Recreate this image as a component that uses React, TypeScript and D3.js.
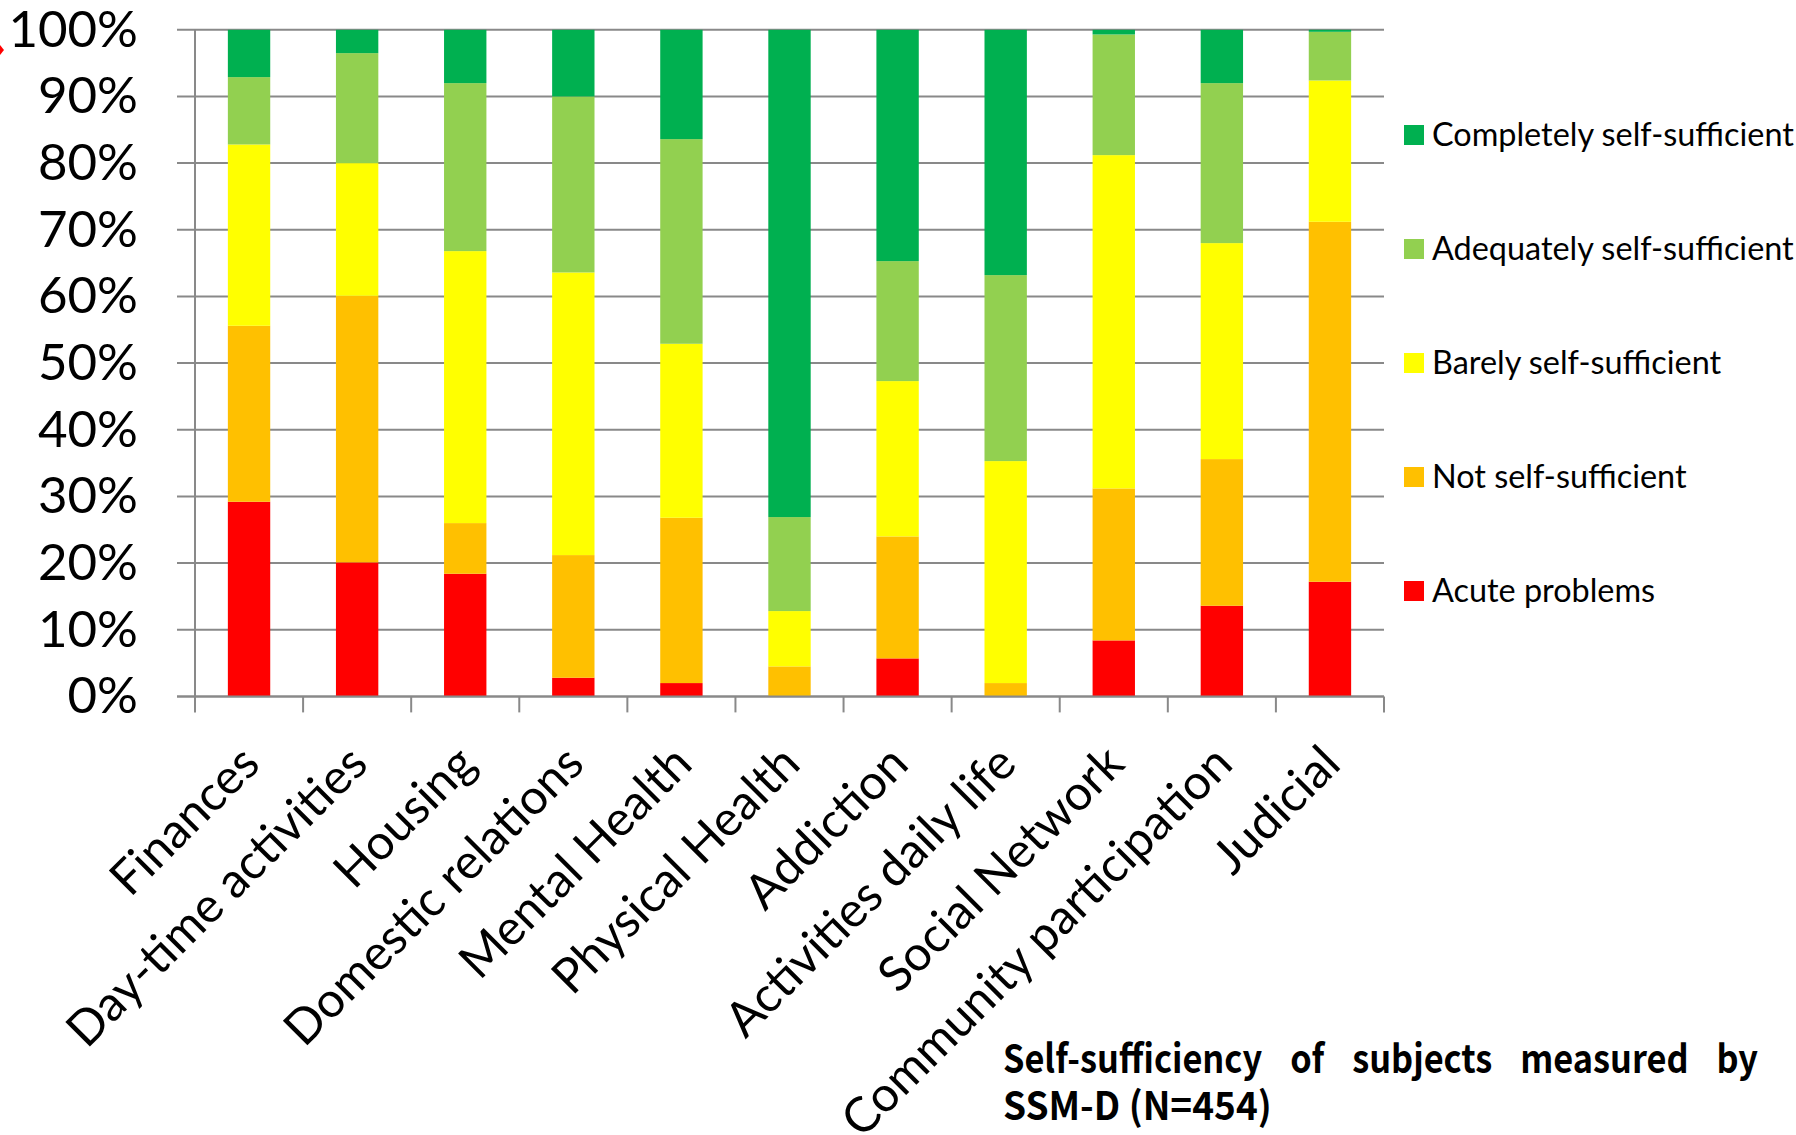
import React, { useEffect, useRef } from "react";
import * as d3 from "d3";

const categories = [
  "Finances",
  "Day-time activities",
  "Housing",
  "Domestic relations",
  "Mental Health",
  "Physical Health",
  "Addiction",
  "Activities daily life",
  "Social Network",
  "Community participation",
  "Judicial",
];
const seriesNames = [
  "Acute problems",
  "Not self-sufficient",
  "Barely self-sufficient",
  "Adequately self-sufficient",
  "Completely self-sufficient",
];
const seriesColors = ["#FF0000", "#FFC000", "#FFFF00", "#92D050", "#00B050"];
const acuteProblems = [29.2, 20.1, 18.4, 2.8, 2.0, 0, 5.7, 0, 8.4, 13.6, 17.2];
const notSelfSufficient = [26.4, 40.0, 7.6, 18.4, 24.8, 4.5, 18.3, 2.0, 22.8, 22.0, 54.0];
const barelySelfSufficient = [27.2, 19.9, 40.8, 42.4, 26.1, 8.3, 23.3, 33.3, 50.0, 32.4, 21.2];
const adequatelySelfSufficient = [10.1, 16.5, 25.2, 26.4, 30.7, 14.1, 18.0, 27.9, 18.1, 24.0, 7.3];
const completelySelfSufficient = [7.1, 3.5, 8.0, 10.0, 16.4, 73.1, 34.7, 36.8, 0.7, 8.0, 0.3];
const yTicks = [0, 10, 20, 30, 40, 50, 60, 70, 80, 90, 100];
const titleLine1 = ["Self-sufficiency", "of", "subjects", "measured", "by"];
const titleLine2 = "SSM-D (N=454)";

const W = 1796;
const H = 1135;
const PLOT_L = 195;
const PLOT_R = 1384;
const PLOT_T = 29.8;
const PLOT_B = 696.4;
const GRID = "#898989";
const FONT = "Lato, 'Open Sans', sans-serif";
const TITLE_FONT = "'Noto Sans CJK KR', 'Noto Sans', sans-serif";
const TITLE_SX = 0.88;
const TITLE2_SX = 0.95;

export default function App() {
  const titleRef = useRef<SVGGElement | null>(null);

  const seriesValues = [
    acuteProblems,
    notSelfSufficient,
    barelySelfSufficient,
    adequatelySelfSufficient,
    completelySelfSufficient,
  ];
  const rows = categories.map((c, i) => {
    const r: Record<string, any> = { category: c };
    seriesNames.forEach((s, k) => (r[s] = seriesValues[k][i]));
    return r;
  });
  const stacked = d3.stack<Record<string, any>>().keys(seriesNames)(rows);

  const x = d3
    .scaleBand<string>()
    .domain(categories)
    .range([PLOT_L, PLOT_R])
    .paddingInner(0.608)
    .paddingOuter(0.304);
  const y = d3.scaleLinear().domain([0, 100]).range([PLOT_B, PLOT_T]);
  const step = x.step();
  const boundaries = d3.range(categories.length + 1).map((i) => PLOT_L + i * step);

  useEffect(() => {
    if (!titleRef.current) return;
    const g = d3.select(titleRef.current);
    const words = g.selectAll<SVGTextElement, unknown>("text.w1").nodes();
    const widths = words.map((n) => n.getComputedTextLength() * TITLE_SX);
    const start = 1003;
    const end = 1758;
    const total = d3.sum(widths);
    const gap = (end - start - total) / (words.length - 1);
    let cx = start;
    words.forEach((n, i) => {
      d3.select(n).attr("transform", `translate(${cx},1073) scale(${TITLE_SX},1)`);
      cx += widths[i] + gap;
    });
  }, []);

  const legendOrder = [4, 3, 2, 1, 0];
  const legendY = (i: number) => 135 + i * 114;

  return (
    <svg
      width={W}
      height={H}
      viewBox={`0 0 ${W} ${H}`}
      style={{ position: "absolute", left: 0, top: 0, background: "#fff" }}
    >
      <rect x={0} y={0} width={W} height={H} fill="#fff" />
      {/* gridlines */}
      {yTicks.map((t) => (
        <line
          key={"g" + t}
          x1={PLOT_L - 18}
          x2={PLOT_R}
          y1={y(t)}
          y2={y(t)}
          stroke={GRID}
          strokeWidth={2}
        />
      ))}
      {/* y axis line */}
      <line x1={PLOT_L} x2={PLOT_L} y1={PLOT_T} y2={PLOT_B} stroke={GRID} strokeWidth={2} />
      {/* bars */}
      {stacked.map((layer, k) => (
        <g key={layer.key} fill={seriesColors[k]}>
          {layer.map((d, i) => {
            const h = y(d[0]) - y(d[1]);
            if (h <= 0) return null;
            return (
              <rect
                key={i}
                x={x(categories[i])}
                y={y(d[1])}
                width={x.bandwidth()}
                height={h}
              />
            );
          })}
        </g>
      ))}
      {/* x axis */}
      <line x1={PLOT_L - 18} x2={PLOT_R} y1={PLOT_B} y2={PLOT_B} stroke={GRID} strokeWidth={2} />
      {boundaries.map((bx, i) => (
        <line key={"t" + i} x1={bx} x2={bx} y1={PLOT_B} y2={PLOT_B + 16} stroke={GRID} strokeWidth={2} />
      ))}
      {/* y labels */}
      {yTicks.map((t) => (
        <text
          key={"yl" + t}
          x={138}
          y={y(t) + 17}
          textAnchor="end"
          fontFamily={FONT}
          fontSize={51}
          fill="#000"
        >
          {t + "%"}
        </text>
      ))}
      {/* x labels */}
      {categories.map((c) => {
        const cx = (x(c) as number) + x.bandwidth() / 2 + 13;
        const cy = PLOT_B + 70;
        return (
          <text
            key={"xl" + c}
            transform={`translate(${cx},${cy}) rotate(-45)`}
            textAnchor="end"
            fontFamily={FONT}
            fontSize={48.5}
            fill="#000"
          >
            {c}
          </text>
        );
      })}
      {/* legend */}
      {legendOrder.map((k, i) => (
        <g key={"lg" + k}>
          <rect x={1404} y={legendY(i) - 10} width={20} height={20} fill={seriesColors[k]} />
          <text x={1432} y={legendY(i) + 11} fontFamily={FONT} fontSize={32.4} fill="#000">
            {seriesNames[k]}
          </text>
        </g>
      ))}
      {/* title */}
      <g ref={titleRef} fontFamily={TITLE_FONT} fontWeight={700} fontSize={39} fill="#000">
        {titleLine1.map((w, i) => (
          <text key={"tw" + i} className="w1" x={0} y={0} transform={`translate(1003,1073) scale(${TITLE_SX},1)`}>
            {w}
          </text>
        ))}
        <text x={0} y={0} transform={`translate(1003,1120) scale(${TITLE2_SX},1)`}>
          {titleLine2}
        </text>
      </g>
      {/* small red mark at the left edge */}
      <path d="M0,45 L4,50 L0,55 Z" fill="#FF0000" />
    </svg>
  );
}
